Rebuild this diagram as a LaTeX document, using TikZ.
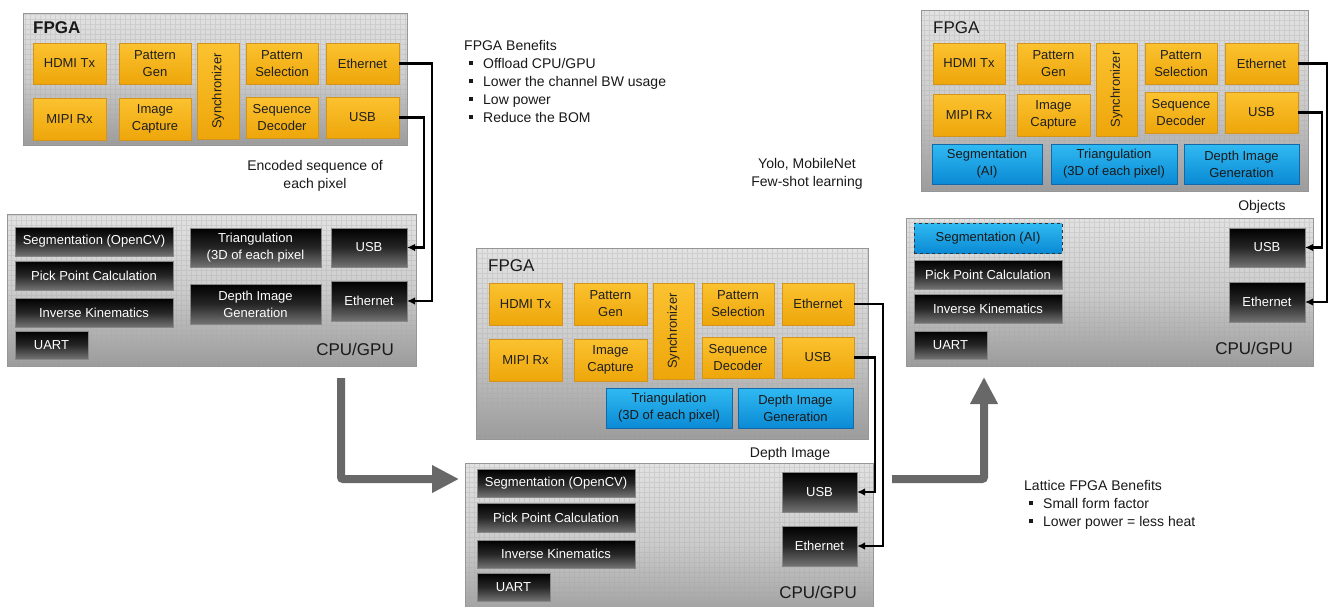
\documentclass[tikz,border=0pt]{standalone}
\usepackage{fontspec}
\setmainfont{Liberation Sans}
\usepackage{graphicx}
\usetikzlibrary{arrows.meta}

\definecolor{orgtop}{RGB}{251,194,48}
\definecolor{orgbot}{RGB}{238,166,10}
\definecolor{orgedge}{RGB}{210,148,28}
\definecolor{bluetop}{RGB}{48,186,242}
\definecolor{bluebot}{RGB}{10,138,212}
\definecolor{blueedge}{RGB}{20,104,168}
\definecolor{paneltop}{RGB}{226,226,226}
\definecolor{panelmid}{RGB}{204,204,204}
\definecolor{panelbot}{RGB}{155,155,155}
\definecolor{paneledge}{RGB}{150,150,150}
\definecolor{darkbot}{RGB}{115,115,115}
\definecolor{darkedge}{RGB}{135,135,135}
\definecolor{flowgray}{RGB}{104,104,104}

% box placed by its corners: style, name, x1, y1, x2, y2, text
\newcommand\blk[7]{\node[#1, minimum width={#5-#3}, minimum height={#6-#4}] (#2) at ({(#3+#5)/2},{(#4+#6)/2}) {#7};}
\newcommand\sqbullet{\rule[3.5pt]{4pt}{4pt}}

\begin{document}
\begin{tikzpicture}[x=1pt, y=-1pt,
  font=\fontsize{13}{17}\selectfont,
  panel/.style={draw=paneledge, line width=1pt, top color=paneltop, bottom color=panelbot,
    middle color=panelmid, inner sep=0pt, outer sep=0pt,
    path picture={\draw[gray!70, line width=.3pt, opacity=.3]
      (path picture bounding box.south west) grid[step=5pt] (path picture bounding box.north east);}},
  orange/.style={draw=orgedge, line width=.8pt, top color=orgtop, bottom color=orgbot,
    text=black!88, align=center, inner sep=0pt, outer sep=0pt},
  bluebox/.style={draw=blueedge, line width=.8pt, top color=bluetop, bottom color=bluebot,
    text=black!90, align=center, inner sep=0pt, outer sep=0pt},
  darkbox/.style={draw=darkedge, line width=.8pt, top color=black, bottom color=darkbot,
    middle color=black!85, text=white, align=center, inner sep=0pt, outer sep=0pt},
  conn/.style={line width=2.5pt, draw=black, -{Latex[length=8pt,width=7.5pt]}},
  flow/.style={line width=8pt, draw=flowgray, rounded corners=2pt,
    -{Triangle[length=27pt,width=26pt]}},
  title/.style={font=\fontsize{17}{20}\selectfont, text=black!90, inner sep=0pt},
  lbl/.style={font=\fontsize{14}{17}\selectfont, text=black!90, inner sep=0pt},
]
\path[use as bounding box, fill=white] (0,0) rectangle (1333,606);
\clip (0,0) rectangle (1333,606);

% ---------------- first stage: FPGA ----------------
\blk{panel}{fpgaA}{23}{13}{407}{145}{}
\node[title, anchor=west, font=\fontsize{17}{20}\selectfont\bfseries] (fpgaAlbl) at (33,28) {FPGA};
\blk{orange}{aHdmi}{33}{43}{106}{84}{HDMI Tx}
\blk{orange}{aPgen}{119}{43}{191}{84}{Pattern\\Gen}
\blk{orange}{aSync}{197}{43}{239}{139}{\rotatebox{90}{Synchronizer}}
\blk{orange}{aPsel}{246}{43}{318}{84}{Pattern\\Selection}
\blk{orange}{aEth}{326}{43}{399}{84}{Ethernet}
\blk{orange}{aMipi}{33}{98}{106}{140}{MIPI Rx}
\blk{orange}{aCap}{119}{98}{191}{140}{Image\\Capture}
\blk{orange}{aSeq}{246}{97}{318}{138}{Sequence\\Decoder}
\blk{orange}{aUsb}{326}{97}{399}{138}{USB}

% ---------------- first stage: CPU/GPU ----------------
\blk{panel}{cpuA}{7}{214}{416}{366}{}
\blk{darkbox}{aSegCv}{15}{227}{173}{256}{Segmentation (OpenCV)}
\blk{darkbox}{aPick}{15}{261}{173}{290}{Pick Point Calculation}
\blk{darkbox}{aIk}{15}{298}{173}{327}{Inverse Kinematics}
\blk{darkbox}{aUart}{15}{331}{88}{359}{UART}
\blk{darkbox}{aTri}{190}{228}{321}{267}{Triangulation\\(3D of each pixel}
\blk{darkbox}{aDepth}{190}{284}{321}{324}{Depth Image\\Generation}
\blk{darkbox}{aUsbC}{331}{228}{407}{267}{USB}
\blk{darkbox}{aEthC}{331}{281}{407}{321}{Ethernet}
\node[title, anchor=east] (cpuAlbl) at (394,349) {CPU/GPU};

\draw[conn] (aEth.east) -- ++(33,0) |- (aEthC.east);
\draw[conn] (aUsb.east) -- ++(25,0) |- (aUsbC.east);

\node[lbl, anchor=base] (encA) at (315,170) {Encoded sequence of};
\node[lbl, anchor=base] (encB) at (315,188) {each pixel};

% benefits of the first stage
\node[lbl, anchor=base west] (benA0) at (464,50) {FPGA Benefits};
\node[lbl, anchor=base west] (benA1) at (469,68) {\sqbullet\hspace{10pt}Offload CPU/GPU};
\node[lbl, anchor=base west] (benA2) at (469,86) {\sqbullet\hspace{10pt}Lower the channel BW usage};
\node[lbl, anchor=base west] (benA3) at (469,104) {\sqbullet\hspace{10pt}Low power};
\node[lbl, anchor=base west] (benA4) at (469,122) {\sqbullet\hspace{10pt}Reduce the BOM};

% ---------------- second stage: FPGA ----------------
\blk{panel}{fpgaB}{476}{248}{868}{439}{}
\node[title, anchor=west] (fpgaBlbl) at (488,266) {FPGA};
\blk{orange}{bHdmi}{489}{283}{562}{325}{HDMI Tx}
\blk{orange}{bPgen}{574}{283}{647}{325}{Pattern\\Gen}
\blk{orange}{bSync}{653}{283}{694}{379}{\rotatebox{90}{Synchronizer}}
\blk{orange}{bPsel}{702}{283}{774}{325}{Pattern\\Selection}
\blk{orange}{bEth}{782}{283}{854}{325}{Ethernet}
\blk{orange}{bMipi}{489}{339}{562}{381}{MIPI Rx}
\blk{orange}{bCap}{574}{339}{647}{381}{Image\\Capture}
\blk{orange}{bSeq}{702}{337}{774}{378}{Sequence\\Decoder}
\blk{orange}{bUsb}{782}{337}{854}{378}{USB}
\blk{bluebox}{bTri}{606}{388}{732}{428}{Triangulation\\(3D of each pixel)}
\blk{bluebox}{bDepth}{738}{388}{853}{428}{Depth Image\\Generation}

% ---------------- second stage: CPU/GPU ----------------
\blk{panel}{cpuB}{465}{463}{873}{622}{}
\blk{darkbox}{bSegCv}{477}{469}{635}{497}{Segmentation (OpenCV)}
\blk{darkbox}{bPick}{477}{503}{635}{532}{Pick Point Calculation}
\blk{darkbox}{bIk}{477}{540}{635}{568}{Inverse Kinematics}
\blk{darkbox}{bUart}{477}{573}{550}{601}{UART}
\blk{darkbox}{bUsbC}{782}{472}{857}{512}{USB}
\blk{darkbox}{bEthC}{782}{526}{857}{566}{Ethernet}
\node[title, anchor=east] (cpuBlbl) at (857,592) {CPU/GPU};

\draw[conn] (bEth.east) -- ++(29,0) |- (bEthC.east);
\draw[conn] (bUsb.east) -- ++(21,0) |- (bUsbC.east);

\node[lbl, anchor=base] (depthlbl) at (790,457) {Depth Image};
\node[lbl, anchor=base] (yoloA) at (807,168.5) {Yolo, MobileNet};
\node[lbl, anchor=base] (yoloB) at (807,186.5) {Few-shot learning};

% ---------------- third stage: FPGA ----------------
\blk{panel}{fpgaC}{921}{10}{1308}{191}{}
\node[title, anchor=west] (fpgaClbl) at (933,28) {FPGA};
\blk{orange}{cHdmi}{933}{43}{1005}{84}{HDMI Tx}
\blk{orange}{cPgen}{1017}{43}{1090}{84}{Pattern\\Gen}
\blk{orange}{cSync}{1096}{43}{1137}{136}{\rotatebox{90}{Synchronizer}}
\blk{orange}{cPsel}{1145}{43}{1217}{84}{Pattern\\Selection}
\blk{orange}{cEth}{1225}{43}{1298}{84}{Ethernet}
\blk{orange}{cMipi}{933}{94}{1005}{136}{MIPI Rx}
\blk{orange}{cCap}{1017}{94}{1090}{136}{Image\\Capture}
\blk{orange}{cSeq}{1145}{92}{1217}{133}{Sequence\\Decoder}
\blk{orange}{cUsb}{1225}{92}{1298}{133}{USB}
\blk{bluebox}{cSegAi}{932}{144}{1042}{184}{Segmentation\\(AI)}
\blk{bluebox}{cTri}{1051}{144}{1177}{184}{Triangulation\\(3D of each pixel)}
\blk{bluebox}{cDepth}{1184}{144}{1299}{184}{Depth Image\\Generation}

% ---------------- third stage: CPU/GPU ----------------
\blk{panel}{cpuC}{906}{218}{1313}{366}{}
\blk{bluebox, draw=black!80, dashed}{cSegAiC}{914}{223}{1062}{253}{Segmentation (AI)}
\blk{darkbox}{cPick}{914}{260}{1062}{289}{Pick Point Calculation}
\blk{darkbox}{cIk}{914}{294}{1062}{323}{Inverse Kinematics}
\blk{darkbox}{cUart}{914}{331}{987}{359}{UART}
\blk{darkbox}{cUsbC}{1229}{228}{1305}{267}{USB}
\blk{darkbox}{cEthC}{1229}{282}{1305}{322}{Ethernet}
\node[title, anchor=east] (cpuClbl) at (1293,348) {CPU/GPU};

\draw[conn] (cEth.east) -- ++(29,0) |- (cEthC.east);
\draw[conn] (cUsb.east) -- ++(24,0) |- (cUsbC.east);

\node[lbl, anchor=base] (objlbl) at (1262,210) {Objects};

% benefits of the third stage
\node[lbl, anchor=base west] (benB0) at (1024,490.5) {Lattice FPGA Benefits};
\node[lbl, anchor=base west] (benB1) at (1029,508.5) {\sqbullet\hspace{10pt}Small form factor};
\node[lbl, anchor=base west] (benB2) at (1029,526.5) {\sqbullet\hspace{10pt}Lower power = less heat};

% ---------------- flow between stages ----------------
\coordinate (flowAstart) at (341,378);
\coordinate (flowAend) at (459,479);
\draw[flow] (flowAstart) |- (flowAend);
\coordinate (flowBstart) at (892,479);
\coordinate (flowBend) at (984,377);
\draw[flow] (flowBstart) -| (flowBend);
\end{tikzpicture}
\end{document}
